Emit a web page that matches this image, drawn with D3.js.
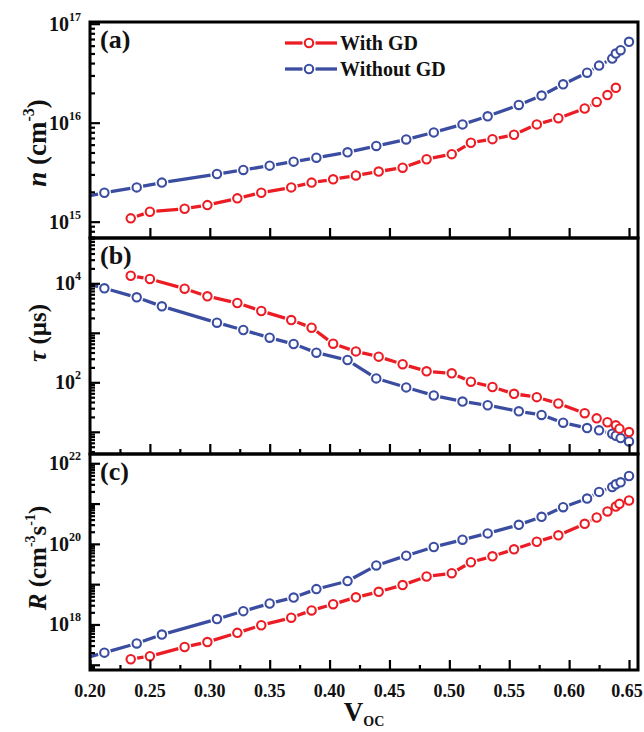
<!DOCTYPE html>
<html><head><meta charset="utf-8">
<script src="https://cdn.jsdelivr.net/npm/d3@7"></script>
<style>
body{margin:0;background:#fff}
svg{display:block}
text{font-family:"Liberation Serif","Times New Roman",serif;font-weight:bold;fill:#111}
</style>
</head><body>
<svg id="chart" width="644" height="732"></svg>
<script>
// ---- Data ----
const vBlue = [0.190,0.212,0.239,0.260,0.306,0.328,0.350,0.370,0.389,0.415,0.439,0.464,0.487,0.511,0.532,0.558,0.577,0.595,0.615,0.625,0.636,0.639,0.643,0.650];
const vRed  = [0.234,0.250,0.279,0.298,0.323,0.343,0.368,0.385,0.403,0.422,0.441,0.461,0.481,0.502,0.518,0.536,0.554,0.573,0.591,0.613,0.623,0.632,0.639,0.642,0.650];

// (a) n (cm^-3)
const nBlue = [1.73e15,1.96e15,2.22e15,2.48e15,3.03e15,3.33e15,3.68e15,4.04e15,4.43e15,5.02e15,5.82e15,6.77e15,7.98e15,9.61e15,1.16e16,1.51e16,1.88e16,2.44e16,3.20e16,3.77e16,4.44e16,4.99e16,5.40e16,6.56e16];
const nRed  = [1.08e15,1.26e15,1.35e15,1.47e15,1.72e15,1.96e15,2.22e15,2.48e15,2.68e15,2.93e15,3.21e15,3.51e15,4.27e15,4.81e15,6.27e15,6.82e15,7.55e15,9.61e15,1.11e16,1.39e16,1.62e16,1.90e16,2.25e16,null,null];

// (b) tau (us)
const tauBlue = [1.11e4,7.93e3,5.21e3,3.43e3,1.60e3,1.14e3,796,594,396,282,120,78.9,54.3,40.9,34.4,26.0,21.9,15.3,11.9,10.7,9.16,8.34,7.46,6.40];
const tauRed  = [1.42e4,1.22e4,7.79e3,5.46e3,4.00e3,2.76e3,1.81e3,1.27e3,602,421,330,232,167,152,103,80.4,58.6,50.2,37.3,23.8,18.7,15.6,13.5,11.6,9.9];

// (c) R (cm^-3 s^-1)
const rBlue = [1.3e17,2.0e17,3.38e17,5.62e17,1.36e18,2.14e18,3.31e18,4.65e18,7.54e18,1.19e19,2.91e19,5.10e19,8.35e19,1.27e20,1.82e20,2.97e20,4.70e20,8.12e20,1.33e21,1.95e21,2.58e21,3.01e21,3.37e21,4.83e21];
const rRed  = [1.37e17,1.63e17,2.76e17,3.66e17,6.19e17,9.56e17,1.47e18,2.23e18,3.18e18,4.72e18,6.47e18,9.50e18,1.55e19,1.87e19,3.50e19,4.91e19,7.33e19,1.13e20,1.63e20,3.15e20,4.51e20,6.37e20,8.44e20,9.84e20,1.19e21];

const xTicks = [0.20,0.25,0.30,0.35,0.40,0.45,0.50,0.55,0.60,0.65];
const xMinorTicks = [0.225,0.275,0.325,0.375,0.425,0.475,0.525,0.575,0.625];
const seriesNames = ["With GD","Without GD"];
const RED = "#ec1c24", BLUE = "#3b4da0";

// ---- Layout ----
const svg = d3.select("#chart");
const L = 90, R = 638;
const x = d3.scaleLinear().domain([0.2, 0.6575]).range([L, R]);

const panels = [
  {tag:"(a)", top:22,  bottom:238, lo:14.835, hi:17.017, blue:nBlue,  red:nRed,  labelExp:[15,16,17], xMinor:false},
  {tag:"(b)", top:238, bottom:454, lo:0.552,  hi:4.915,  blue:tauBlue, red:tauRed, labelExp:[2,4], xMinor:true},
  {tag:"(c)", top:454, bottom:670, lo:16.87,  hi:22.23,  blue:rBlue,  red:rRed,  labelExp:[18,20,22], xMinor:true}
];

const rMark = 4.2, gap = 6.5;

function drawSeries(g, vs, vals, y, color){
  const pts = vs.map((v,i)=>vals[i]==null?null:[x(v), y(vals[i])]).filter(p=>p);
  const segs = [];
  for(let i=0;i<pts.length-1;i++){
    const [x1,y1]=pts[i],[x2,y2]=pts[i+1];
    const d=Math.hypot(x2-x1,y2-y1);
    if(d<=2*gap) continue;
    const ux=(x2-x1)/d, uy=(y2-y1)/d;
    segs.push([x1+ux*gap,y1+uy*gap,x2-ux*gap,y2-uy*gap]);
  }
  g.selectAll(null).data(segs).enter().append("line")
    .attr("x1",d=>d[0]).attr("y1",d=>d[1]).attr("x2",d=>d[2]).attr("y2",d=>d[3])
    .attr("stroke",color).attr("stroke-width",3.3).attr("stroke-linecap","butt");
  g.selectAll(null).data(pts).enter().append("circle")
    .attr("cx",d=>d[0]).attr("cy",d=>d[1]).attr("r",rMark)
    .attr("fill","#fff").attr("stroke",color).attr("stroke-width",2.1);
}

panels.forEach((p,pi)=>{
  const y = d3.scaleLog().domain([Math.pow(10,p.lo), Math.pow(10,p.hi)]).range([p.bottom, p.top]);
  const majors=[], minors=[];
  for(let e=Math.floor(p.lo); e<=Math.ceil(p.hi); e++){
    const m=Math.pow(10,e);
    if(e>=p.lo && e<=p.hi+0.02) majors.push(m);
    for(let k=2;k<=9;k++){ const v=k*m, lv=Math.log10(v); if(lv>p.lo && lv<p.hi) minors.push(v); }
  }
  const g = svg.append("g");
  const cid = "clip"+pi;
  svg.append("clipPath").attr("id",cid).append("rect")
    .attr("x",L).attr("y",p.top).attr("width",R-L).attr("height",p.bottom-p.top);
  const data = g.append("g").attr("clip-path",`url(#${cid})`);
  drawSeries(data, vBlue, p.blue, y, BLUE);
  drawSeries(data, vRed, p.red, y, RED);

  // y ticks (inward)
  const ay = g.append("g").attr("transform",`translate(${L},0)`);
  ay.call(d3.axisLeft(y).tickValues(majors).tickSize(-10).tickFormat(""));
  const ay2 = g.append("g").attr("transform",`translate(${L},0)`);
  ay2.call(d3.axisLeft(y).tickValues(minors).tickSize(-5).tickFormat(""));
  [ay,ay2].forEach(a=>{a.select(".domain").remove(); a.selectAll("line").attr("stroke","#000").attr("stroke-width",2.2);});

  // x ticks (inward)
  const ax = g.append("g").attr("transform",`translate(0,${p.bottom})`);
  ax.call(d3.axisBottom(x).tickValues(xTicks).tickSize(-10).tickFormat(""));
  ax.select(".domain").remove(); ax.selectAll("line").attr("stroke","#000").attr("stroke-width",2.2);
  if(p.xMinor){
    const ax2 = g.append("g").attr("transform",`translate(0,${p.bottom})`);
    ax2.call(d3.axisBottom(x).tickValues(xMinorTicks).tickSize(-5).tickFormat(""));
    ax2.select(".domain").remove(); ax2.selectAll("line").attr("stroke","#000").attr("stroke-width",2.2);
  }

  // y tick labels 10^e
  p.labelExp.forEach(e=>{
    const t = g.append("text").attr("x",81).attr("y",y(Math.pow(10,e))+7).attr("text-anchor","end").style("font-size","20px");
    t.append("tspan").text("10");
    t.append("tspan").attr("dy",-10).style("font-size","12px").text(String(e));
  });

  // frame
  g.append("rect").attr("x",L).attr("y",p.top).attr("width",R-L).attr("height",p.bottom-p.top)
    .attr("fill","none").attr("stroke","#000").attr("stroke-width",3);

  // panel tag
  g.append("text").attr("x",100).attr("y",p.top+26).style("font-size","26px").text(p.tag);
});

// x tick labels
svg.append("g").selectAll("text").data(xTicks).enter().append("text")
  .attr("x",(d,i)=>x(d)-(i===xTicks.length-1?2:0)).attr("y",697).attr("text-anchor","middle").style("font-size","18px")
  .text(d=>d3.format(".2f")(d));

// x title
const xt = svg.append("text").attr("x",364).attr("y",721).attr("text-anchor","middle").style("font-size","27px");
xt.append("tspan").text("V");
xt.append("tspan").attr("dy",5).style("font-size","14px").text("OC");

// y titles
function yTitle(cy, size, parts){
  const t = svg.append("text").attr("transform",`translate(46,${cy}) rotate(-90)`).attr("text-anchor","middle").style("font-size",size+"px");
  parts.forEach(pt=>{
    const s=t.append("tspan").text(pt.t);
    if(pt.i) s.style("font-style","italic");
    if(pt.sup){ s.attr("dy",-Math.round(size*0.45)).style("font-size",Math.round(size*0.58)+"px"); }
    if(pt.down){ s.attr("dy",Math.round(size*0.45)); }
  });
}
yTitle(143,27,[{t:"n",i:true},{t:"  (cm"},{t:"-3",sup:true},{t:")",down:true}]);
yTitle(333,25,[{t:"τ",i:true},{t:"  (μs)"}]);
yTitle(558,25,[{t:"R",i:true},{t:"  (cm"},{t:"-3",sup:true},{t:"s",down:true},{t:"-1",sup:true},{t:")",down:true}]);

// legend
const lg = svg.append("g");
[[RED,43,seriesNames[0]],[BLUE,69,seriesNames[1]]].forEach(([c,yy,name])=>{
  lg.append("line").attr("x1",285).attr("x2",309-gap).attr("y1",yy).attr("y2",yy).attr("stroke",c).attr("stroke-width",3.3);
  lg.append("line").attr("x1",309+gap).attr("x2",337).attr("y1",yy).attr("y2",yy).attr("stroke",c).attr("stroke-width",3.3);
  lg.append("circle").attr("cx",309).attr("cy",yy).attr("r",rMark).attr("fill","#fff").attr("stroke",c).attr("stroke-width",2.1);
  lg.append("text").attr("x",340).attr("y",yy+7).style("font-size","20px").text(name);
});
</script>
</body></html>
